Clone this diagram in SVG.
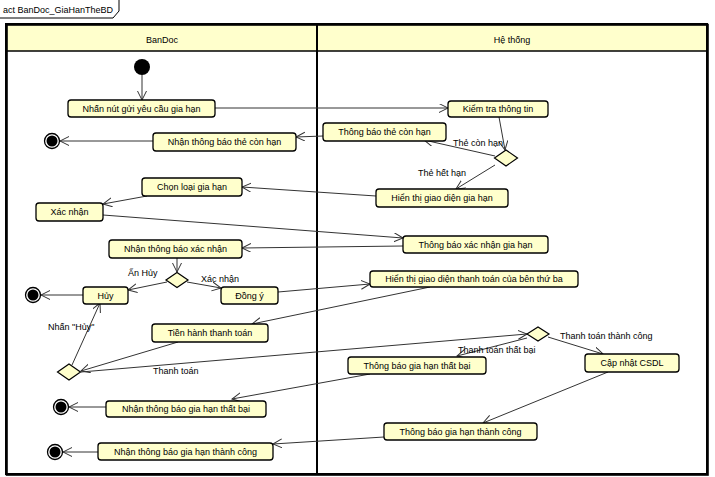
<svg xmlns="http://www.w3.org/2000/svg" width="715" height="477" viewBox="0 0 715 477">
<defs>
<marker id="arr" markerUnits="userSpaceOnUse" markerWidth="12" markerHeight="12" refX="9" refY="4.5" orient="auto">
<path d="M0,0 L9,4.5 L0,9" fill="none" stroke="#333" stroke-width="1"/>
</marker>
</defs>
<style>
text{font-family:"Liberation Sans",Arial,sans-serif;font-size:9px;fill:#000}
.node rect{fill:#ffffcc;stroke:#000;stroke-width:1.3}
.node text{text-anchor:middle}
.dec polygon{fill:#ffffcc;stroke:#000;stroke-width:1.2}
#connectors line{stroke:#333;stroke-width:1;marker-end:url(#arr)}
.lane{fill:none;stroke:#000;stroke-width:2}
.fin .o{fill:#fff;stroke:#000;stroke-width:1.3}
.fin .i{fill:#000}
</style>
<rect width="715" height="477" fill="#fff"/>
<!-- frame tab -->
<polyline points="0,18 113,18 119,11 119,0" fill="none" stroke="#000" stroke-width="1"/>
<text x="3" y="12.5" font-size="9.5">act BanDoc_GiaHanTheBD</text>
<!-- swimlanes -->
<g id="lanes">
<rect x="6" y="24" width="701" height="27" fill="#ffffcc"/>
<rect class="lane" x="6" y="24" width="701" height="450" stroke="#999" transform="translate(0.8,0.8)" stroke-width="1"/>
<rect class="lane" x="6" y="24" width="701" height="450"/>
<line x1="6" y1="51" x2="707" y2="51" stroke="#000" stroke-width="1.6"/>
<line x1="317" y1="24" x2="317" y2="474" stroke="#000" stroke-width="2"/>
<text x="162" y="43" text-anchor="middle">BanDoc</text>
<text x="512" y="43" text-anchor="middle">Hệ thống</text>
</g>
<g id="connectors">
<line x1="142" y1="75" x2="142" y2="100"/>
<line x1="215" y1="108" x2="448" y2="108"/>
<line x1="499" y1="117" x2="505" y2="150"/>
<line x1="495" y1="156" x2="424" y2="140"/>
<line x1="495" y1="165" x2="456" y2="189"/>
<line x1="323" y1="136" x2="296" y2="137"/>
<line x1="153" y1="141" x2="60" y2="141"/>
<line x1="376" y1="196" x2="242" y2="187"/>
<line x1="147" y1="196" x2="103" y2="204"/>
<line x1="103" y1="215" x2="403" y2="238"/>
<line x1="403" y1="246" x2="242" y2="248"/>
<line x1="177" y1="258" x2="177" y2="272"/>
<line x1="167" y1="282" x2="128" y2="290"/>
<line x1="187" y1="282" x2="221" y2="288"/>
<line x1="83" y1="295" x2="41" y2="295"/>
<line x1="278" y1="292" x2="370" y2="284"/>
<line x1="430" y1="287" x2="252" y2="324"/>
<line x1="178" y1="342" x2="81" y2="371"/>
<line x1="81" y1="372" x2="527" y2="334"/>
<line x1="72" y1="365" x2="100" y2="303"/>
<line x1="527" y1="338" x2="457" y2="356"/>
<line x1="548" y1="337" x2="603" y2="354"/>
<line x1="370" y1="374" x2="232" y2="399"/>
<line x1="106" y1="407" x2="69" y2="407"/>
<line x1="608" y1="372" x2="483" y2="423"/>
<line x1="384" y1="437" x2="273" y2="444"/>
<line x1="98" y1="452" x2="63" y2="452"/>
<text x="453" y="145.5">Thẻ còn hạn</text>
<text x="418" y="175.5">Thẻ hết hạn</text>
<text x="128" y="276">Ấn Hủy</text>
<text x="201" y="282">Xác nhận</text>
<text x="48" y="330">Nhấn "Hủy"</text>
<text x="153" y="374">Thanh toán</text>
<text x="560" y="339">Thanh toán thành công</text>
<text x="458" y="353">Thanh toán thất bại</text>
</g>
<g id="start"><circle cx="142" cy="67" r="8" fill="#000"/></g>
<g id="final1" class="fin"><circle class="o" cx="52" cy="141" r="7.5"/><circle class="i" cx="52" cy="141" r="5.5"/></g>
<g id="final2" class="fin"><circle class="o" cx="33" cy="295" r="7.5"/><circle class="i" cx="33" cy="295" r="5.5"/></g>
<g id="final3" class="fin"><circle class="o" cx="61" cy="407" r="7.5"/><circle class="i" cx="61" cy="407" r="5.5"/></g>
<g id="final4" class="fin"><circle class="o" cx="55" cy="452" r="7.5"/><circle class="i" cx="55" cy="452" r="5.5"/></g>
<g id="d1" class="dec"><polygon points="494.5,158 506,150 517.5,158 506,166"/></g>
<g id="d2" class="dec"><polygon points="166,280 177,272.5 188,280 177,287.5"/></g>
<g id="d3" class="dec"><polygon points="57.5,372 69,364 80.5,372 69,380"/></g>
<g id="d4" class="dec"><polygon points="527,334 538,327 549,334 538,341"/></g>
<g id="n1" class="node"><rect x="68" y="100" width="147" height="17" rx="3"/><text x="141.5" y="111.5">Nhấn nút gửi yêu cầu gia hạn</text></g>
<g id="n2" class="node"><rect x="153" y="133" width="143" height="18" rx="3"/><text x="224.5" y="145">Nhận thông báo thẻ còn hạn</text></g>
<g id="n3" class="node"><rect x="448" y="101" width="100" height="16" rx="3"/><text x="498" y="112">Kiểm tra thông tin</text></g>
<g id="n4" class="node"><rect x="323" y="123" width="123" height="18" rx="3"/><text x="384.5" y="135">Thông báo thẻ còn hạn</text></g>
<g id="n5" class="node"><rect x="376" y="189" width="132" height="18" rx="3"/><text x="442" y="201">Hiển thị giao diện gia hạn</text></g>
<g id="n6" class="node"><rect x="403" y="236" width="145" height="17" rx="3"/><text x="475.5" y="247.5">Thông báo xác nhận gia hạn</text></g>
<g id="n7" class="node"><rect x="142" y="178" width="100" height="18" rx="3"/><text x="192" y="190">Chọn loại gia hạn</text></g>
<g id="n8" class="node"><rect x="36" y="203" width="67" height="18" rx="3"/><text x="69.5" y="215">Xác nhận</text></g>
<g id="n9" class="node"><rect x="109" y="240" width="133" height="18" rx="3"/><text x="175.5" y="252">Nhận thông báo xác nhận</text></g>
<g id="n10" class="node"><rect x="83" y="287" width="45" height="17" rx="3"/><text x="105.5" y="298.5">Hủy</text></g>
<g id="n11" class="node"><rect x="221" y="287" width="57" height="17" rx="3"/><text x="249.5" y="298.5">Đồng ý</text></g>
<g id="n12" class="node"><rect x="152" y="324" width="116" height="18" rx="3"/><text x="210" y="336">Tiền hành thanh toán</text></g>
<g id="n13" class="node"><rect x="106" y="401" width="160" height="16" rx="3"/><text x="186" y="412">Nhận thông báo gia hạn thất bại</text></g>
<g id="n14" class="node"><rect x="98" y="443" width="175" height="17" rx="3"/><text x="185.5" y="454.5">Nhận thông báo gia hạn thành công</text></g>
<g id="n15" class="node"><rect x="370" y="271" width="208" height="16" rx="3"/><text x="474" y="282">Hiển thị giao diện thanh toán của bên thứ ba</text></g>
<g id="n16" class="node"><rect x="348" y="357" width="138" height="17" rx="3"/><text x="417" y="368.5">Thông báo gia hạn thất bại</text></g>
<g id="n17" class="node"><rect x="585" y="354" width="94" height="18" rx="3"/><text x="632" y="366">Cập nhật CSDL</text></g>
<g id="n18" class="node"><rect x="384" y="423" width="153" height="17" rx="3"/><text x="460.5" y="434.5">Thông báo gia hạn thành công</text></g>
</svg>
